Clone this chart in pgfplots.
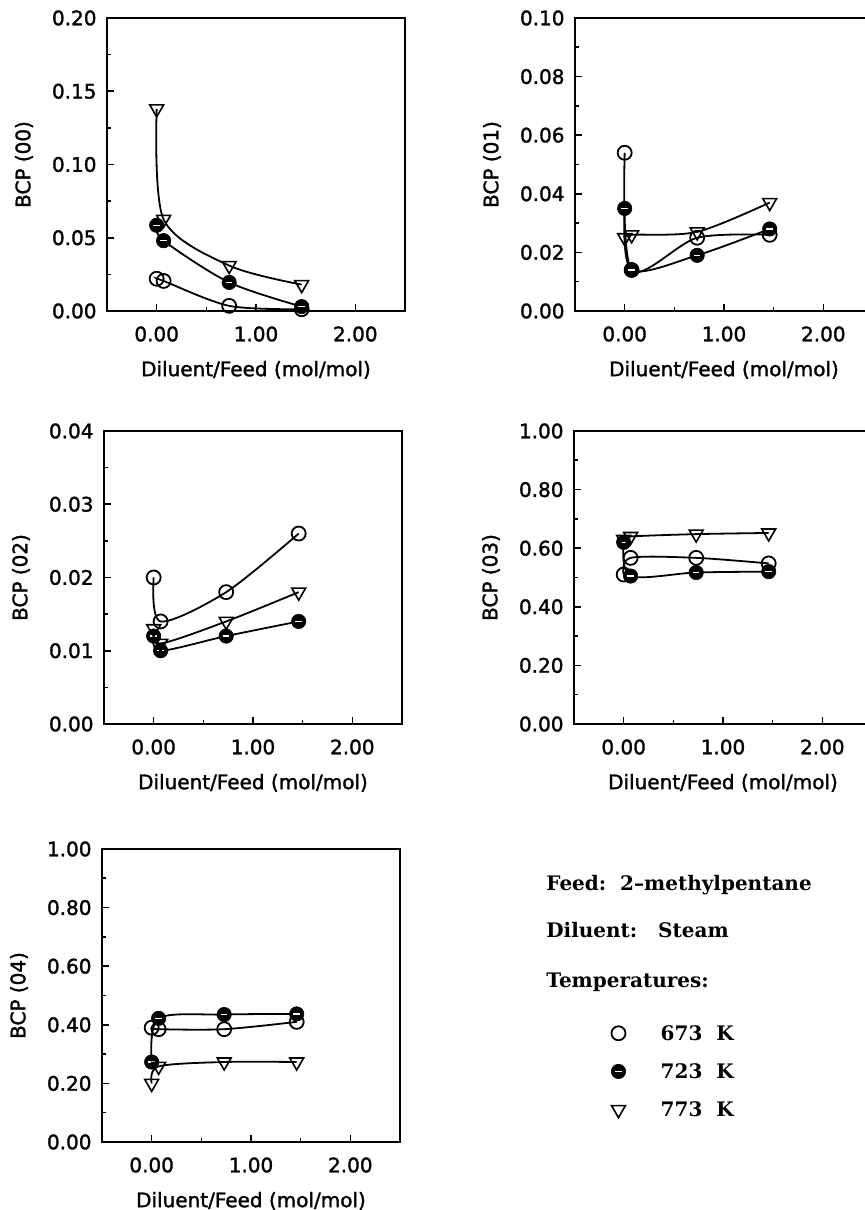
\documentclass[border=0pt]{standalone}
\usepackage{fontspec}
\setmainfont{DejaVu Sans}[FakeBold=1.5]
\newfontfamily\legfont{DejaVu Serif}
\usepackage{pgfplots}
\pgfplotsset{compat=1.18}

% black ball with a white bar (723 K)
\pgfdeclareplotmark{barball}{%
  \pgfpathcircle{\pgfpointorigin}{\pgfplotmarksize}%
  \pgfusepathqfillstroke
  \begin{pgfscope}
    \pgfsetstrokecolor{white}\pgfsetlinewidth{0.7pt}%
    \pgfpathmoveto{\pgfpoint{-0.45\pgfplotmarksize}{0pt}}%
    \pgfpathlineto{\pgfpoint{0.45\pgfplotmarksize}{0pt}}%
    \pgfusepathqstroke
  \end{pgfscope}}

\pgfplotsset{
  bcp/.style={
    scale only axis, width=149pt, height=146.5pt,
    xmin=-0.5, xmax=2.5, xtick={0,1,2}, minor xtick={0.5,1.5},
    ymin=0, minor y tick num=1,
    tick pos=left, tick align=inside,
    major tick length=3.5pt, minor tick length=1.8pt,
    every tick/.style={black, line width=0.8pt},
    axis line style={line width=1.1pt},
    /pgf/number format/assume math mode=true,
    xticklabel style={/pgf/number format/.cd, fixed, fixed zerofill, precision=2, /tikz/.cd, yshift=-4.2pt},
    yticklabel style={/pgf/number format/.cd, fixed, fixed zerofill, precision=2, /tikz/.cd, xshift=-1.7pt},
    scaled y ticks=false,
    font=\fontsize{10}{12}\selectfont,
    xlabel={Diluent/Feed (mol/mol)},
    every axis x label/.style={at={(axis description cs:0.5,-0.201)}, anchor=center},
    every axis y label/.style={at={(axis description cs:-0.2785,0.5)}, rotate=90, anchor=center},
    clip=false,
  },
  s673/.style={black, line width=0.9pt, smooth, mark=o, mark size=3.5pt, mark options={solid, line width=0.9pt}},
  s723/.style={black, line width=0.9pt, smooth, mark=barball, mark size=3.6pt, mark options={solid, fill=black, line width=0.3pt}},
  s773/.style={black, line width=0.9pt, smooth, mark=triangle, mark size=4pt, mark options={solid, rotate=180, line width=0.8pt}},
}

\begin{document}
\begin{tikzpicture}
\useasboundingbox (0,0) rectangle (432.5pt,605pt);

% BCP (00)
\begin{axis}[bcp, at={(53.5pt,449.5pt)}, ymax=0.20, ytick={0,0.05,0.10,0.15,0.20}, ylabel={BCP (00)}]
\addplot[s673] coordinates {(0,0.022) (0.07,0.0205) (0.73,0.0035) (1.46,0.0012)};
\addplot[s723] coordinates {(0,0.0585) (0.07,0.048) (0.73,0.0195) (1.46,0.003)};
\addplot[s773] coordinates {(0,0.138) (0.07,0.0625) (0.73,0.031) (1.46,0.018)};
\end{axis}

% BCP (01)
\begin{axis}[bcp, at={(287.5pt,449.5pt)}, ymax=0.10, ytick={0,0.02,0.04,0.06,0.08,0.10}, ylabel={BCP (01)}]
\addplot[s673] coordinates {(0,0.054) (0.07,0.014) (0.73,0.025) (1.46,0.026)};
\addplot[s723] coordinates {(0,0.035) (0.07,0.014) (0.73,0.019) (1.46,0.028)};
\addplot[s773] coordinates {(0,0.025) (0.07,0.026) (0.73,0.027) (1.46,0.037)};
\end{axis}

% BCP (02)
\begin{axis}[bcp, at={(52pt,243pt)}, ymax=0.04, ytick={0,0.01,0.02,0.03,0.04}, ylabel={BCP (02)}]
\addplot[s673] coordinates {(0,0.020) (0.07,0.014) (0.73,0.018) (1.46,0.026)};
\addplot[s723] coordinates {(0,0.012) (0.07,0.010) (0.73,0.012) (1.46,0.014)};
\addplot[s773] coordinates {(0,0.013) (0.07,0.011) (0.73,0.014) (1.46,0.018)};
\end{axis}

% BCP (03)
\begin{axis}[bcp, at={(287pt,243pt)}, ymax=1, ytick={0,0.2,0.4,0.6,0.8,1}, ylabel={BCP (03)}]
\addplot[s673] coordinates {(0,0.51) (0.07,0.567) (0.73,0.567) (1.46,0.548)};
\addplot[s723] coordinates {(0,0.62) (0.07,0.505) (0.73,0.517) (1.46,0.52)};
\addplot[s773] coordinates {(0,0.63) (0.07,0.64) (0.73,0.648) (1.46,0.652)};
\end{axis}

% BCP (04) with the temperature legend
\begin{axis}[bcp, at={(51pt,34pt)}, ymax=1, ytick={0,0.2,0.4,0.6,0.8,1}, ylabel={BCP (04)},
  legend cell align=left,
  legend image code/.code={\draw[#1] plot coordinates {(0pt,0pt)};},
  legend style={at={(axis description cs:1.709,0.239)}, anchor=west, draw=none, fill=none,
    inner sep=0pt, outer sep=0pt, row sep=12pt, column sep=17.5pt,
    font=\legfont\bfseries\fontsize{10}{12}\selectfont,
    nodes={inner sep=0pt, text height=7pt, text depth=0pt}}]
\addplot[s673] coordinates {(0,0.39) (0.07,0.385) (0.73,0.385) (1.46,0.41)};
\addplot[s723] coordinates {(0,0.273) (0.07,0.422) (0.73,0.435) (1.46,0.437)};
\addplot[s773] coordinates {(0,0.20) (0.07,0.258) (0.73,0.273) (1.46,0.273)};
\legend{673\ \ K, 723\ \ K, 773\ \ K}
\end{axis}

\begin{scope}[every node/.style={anchor=west, inner sep=0pt, font=\legfont\bfseries\fontsize{10}{12}\selectfont}]
\node at (273pt,162.5pt) {Feed:\ \ 2\textendash methylpentane};
\node at (273pt,140pt) {Diluent:\ \ \ Steam};
\node at (273pt,114pt) {Temperatures:};
\end{scope}
\end{tikzpicture}
\end{document}
